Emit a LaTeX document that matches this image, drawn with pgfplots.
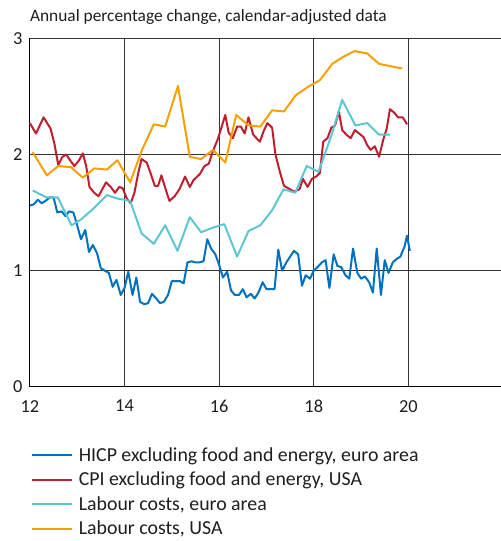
\documentclass[border=0pt]{standalone}
\usepackage{fontspec}
\setmainfont{Carlito}
\usepackage{pgfplots}
\pgfplotsset{compat=1.18}

\definecolor{hicp}{RGB}{0,112,192}
\definecolor{cpi}{RGB}{190,30,45}
\definecolor{lceu}{RGB}{92,198,210}
\definecolor{lcus}{RGB}{247,160,0}
\definecolor{txt}{RGB}{30,30,30}

\begin{document}
\begin{tikzpicture}
\begin{axis}[
  scale only axis,
  width=473bp, height=350bp,
  xmin=12, xmax=21.95, ymin=0, ymax=3,
  xtick={12,14,...,20}, ytick={0,1,2,3},
  axis x line*=bottom, axis y line*=left,
  axis line style={black, line width=1.2bp, -},
  major tick length=0pt,
  grid=major,
  major grid style={black!80, line width=0.8bp},
  /pgf/number format/assume math mode=true,
  tick label style={font=\fontsize{18.5}{22}\selectfont, text=txt},
  xticklabel style={yshift=-10bp},
  yticklabel style={xshift=-4bp},
  legend cell align=left,
  legend style={at={(rel axis cs:0,0)}, anchor=north west, xshift=1bp, yshift=-60bp,
    draw=none, fill=none, font=\fontsize{20}{24}\selectfont, text=txt,
    row sep=7.3bp, inner sep=0pt, nodes={inner sep=1bp},
    /tikz/every odd column/.style={column sep=5bp}},
  legend image code/.code={\draw[#1] (0bp,0bp) -- (40bp,0bp);},
  every axis plot/.append style={line width=2bp, line join=round},
  clip=false,
]
\addplot[hicp] coordinates {
(12.00,1.56)(12.08,1.57)(12.17,1.61)(12.25,1.58)(12.33,1.60)(12.42,1.63)(12.50,1.63)(12.58,1.50)
(12.67,1.51)(12.75,1.47)(12.83,1.51)(12.92,1.50)(13.00,1.39)(13.08,1.27)(13.17,1.35)(13.25,1.16)
(13.33,1.22)(13.42,1.15)(13.50,1.02)(13.58,1.00)(13.67,0.98)(13.75,0.86)(13.83,0.92)(13.92,0.79)
(14.00,0.85)(14.08,0.99)(14.17,0.79)(14.25,0.94)(14.33,0.73)(14.42,0.71)(14.50,0.72)(14.58,0.80)
(14.67,0.76)(14.75,0.72)(14.83,0.73)(14.92,0.79)(15.00,0.91)(15.08,0.91)(15.17,0.91)(15.25,0.89)
(15.33,1.07)(15.42,1.08)(15.50,1.07)(15.58,1.07)(15.67,1.08)(15.75,1.27)(15.83,1.19)(15.92,1.14)
(16.00,1.05)(16.08,0.94)(16.17,0.99)(16.25,0.83)(16.33,0.79)(16.42,0.79)(16.50,0.84)(16.58,0.77)
(16.67,0.80)(16.75,0.76)(16.83,0.81)(16.92,0.90)(17.00,0.84)(17.08,0.84)(17.17,0.84)(17.25,1.18)
(17.33,1.00)(17.42,1.07)(17.50,1.12)(17.58,1.17)(17.67,1.14)(17.75,0.87)(17.83,0.96)(17.92,0.93)
(18.00,1.00)(18.08,1.03)(18.17,1.07)(18.25,1.09)(18.33,0.85)(18.42,1.14)(18.50,1.04)(18.58,1.03)
(18.67,0.96)(18.75,0.93)(18.83,1.19)(18.92,0.98)(19.00,0.93)(19.08,0.95)(19.17,0.90)(19.25,0.81)
(19.33,1.19)(19.42,0.79)(19.50,1.09)(19.58,0.98)(19.67,1.07)(19.75,1.10)(19.83,1.12)(19.92,1.21)
(19.97,1.30)(20.03,1.17)
};
\addlegendentry{HICP excluding food and energy, euro area}
\addplot[cpi] coordinates {
(12.00,2.27)(12.13,2.18)(12.29,2.32)(12.44,2.22)(12.52,2.09)(12.60,1.91)(12.69,1.98)(12.77,2.00)
(12.85,1.95)(12.94,1.90)(13.04,1.95)(13.12,2.01)(13.19,1.90)(13.26,1.72)(13.36,1.67)(13.45,1.64)
(13.53,1.70)(13.61,1.76)(13.71,1.72)(13.80,1.67)(13.89,1.72)(13.96,1.71)(14.05,1.62)(14.13,1.58)
(14.21,1.67)(14.29,1.84)(14.36,1.96)(14.47,1.93)(14.55,1.84)(14.64,1.73)(14.71,1.73)(14.78,1.82)
(14.87,1.70)(14.95,1.60)(15.06,1.64)(15.16,1.70)(15.28,1.81)(15.38,1.72)(15.46,1.78)(15.59,1.83)
(15.69,1.90)(15.78,1.92)(15.87,2.03)(15.97,2.13)(16.04,2.22)(16.13,2.34)(16.20,2.19)(16.29,2.14)
(16.38,2.24)(16.46,2.24)(16.54,2.18)(16.62,2.32)(16.72,2.17)(16.79,2.14)(16.86,2.11)(16.94,2.20)
(17.02,2.27)(17.12,2.23)(17.19,2.00)(17.29,1.84)(17.37,1.73)(17.50,1.70)(17.58,1.68)(17.70,1.70)
(17.77,1.79)(17.87,1.72)(17.96,1.79)(18.05,1.81)(18.13,1.84)(18.20,2.11)(18.29,2.14)(18.37,2.23)
(18.45,2.25)(18.53,2.37)(18.60,2.21)(18.69,2.17)(18.78,2.14)(18.87,2.21)(18.96,2.18)(19.05,2.15)
(19.13,2.08)(19.20,2.04)(19.29,2.07)(19.38,1.98)(19.47,2.13)(19.54,2.22)(19.61,2.39)(19.70,2.36)
(19.78,2.32)(19.88,2.32)(19.97,2.26)
};
\addlegendentry{CPI excluding food and energy, USA}
\addplot[lceu] coordinates {
(12.06,1.69)(12.35,1.63)(12.59,1.63)(12.88,1.39)(13.08,1.44)(13.36,1.54)(13.63,1.65)(13.85,1.62)
(14.12,1.60)(14.36,1.32)(14.62,1.23)(14.86,1.39)(15.12,1.17)(15.38,1.46)(15.62,1.33)(15.87,1.37)
(16.11,1.40)(16.38,1.12)(16.62,1.34)(16.87,1.39)(17.12,1.52)(17.36,1.70)(17.61,1.67)(17.85,1.90)
(18.10,1.85)(18.37,2.16)(18.60,2.47)(18.88,2.25)(19.13,2.27)(19.38,2.17)(19.61,2.17)
};
\addlegendentry{Labour costs, euro area}
\addplot[lcus] coordinates {
(12.06,2.02)(12.36,1.82)(12.60,1.90)(12.87,1.89)(13.12,1.80)(13.36,1.88)(13.63,1.87)(13.85,1.95)
(14.12,1.76)(14.36,2.03)(14.62,2.26)(14.86,2.24)(15.13,2.59)(15.38,1.98)(15.62,1.96)(15.87,2.04)
(16.13,1.93)(16.36,2.34)(16.62,2.25)(16.87,2.24)(17.12,2.38)(17.37,2.37)(17.62,2.51)(17.87,2.58)
(18.13,2.64)(18.39,2.78)(18.62,2.84)(18.86,2.89)(19.13,2.87)(19.38,2.78)(19.62,2.76)(19.87,2.74)
};
\addlegendentry{Labour costs, USA}
\node[anchor=base west, inner sep=0pt, text=txt, font=\fontsize{17.5}{21}\selectfont]
  at ([yshift=17bp]rel axis cs:0,1) {Annual percentage change, calendar-adjusted data};
\path (rel axis cs:0,0) ++(-30bp,-155bp) coordinate (A);
\path (rel axis cs:1,1) ++(0bp,38.5bp) coordinate (B);
\end{axis}
\pgfresetboundingbox
\useasboundingbox (A) rectangle (B);
\end{tikzpicture}
\end{document}
